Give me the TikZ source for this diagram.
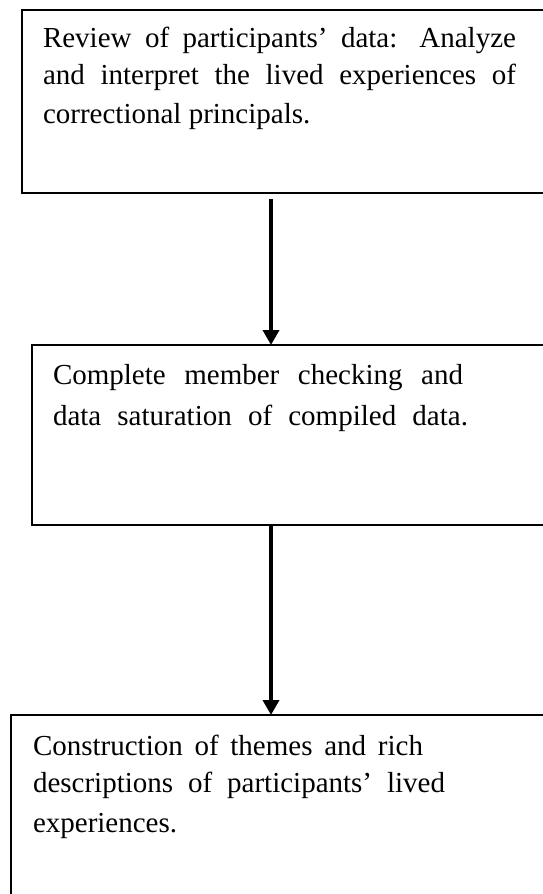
\documentclass[tikz,border=0pt]{standalone}
\usepackage{fontspec}
\setmainfont{Liberation Serif}
\usetikzlibrary{arrows.meta}

\tikzset{
  stagebox/.style={draw=black, line width=1.6pt, fill=none, rectangle,
    anchor=north west, inner sep=0pt, outer sep=0pt},
  textline/.style={anchor=base west, inner sep=0pt, outer sep=0pt,
    font=\fontsize{29}{38}\selectfont},
  flow/.style={draw=black, line width=3.6pt,
    -{Triangle[length=15pt,width=16pt]}}
}
% a justified line of the given width
\newcommand{\fillline}[2]{\makebox[#1pt][s]{#2}}

\begin{document}
\begin{tikzpicture}[x=1pt, y=-1pt]
  \useasboundingbox (0,0) rectangle (543,894);
  \fill[white] (0,0) rectangle (543,894);
  \clip (0,0) rectangle (543,894);

  % the three stages; the boxes run on past the right and bottom edges
  \node[stagebox, minimum width=560pt, minimum height=183pt] (b1) at (22,10) {};
  \node[stagebox, minimum width=560pt, minimum height=180pt] (b2) at (32,345) {};
  \node[stagebox, minimum width=560pt, minimum height=220pt] (b3) at (11,715) {};

  % stage texts
  \node[textline] (t1a) at (43,47)  {\fillline{473}{Review of participants’ data: Analyze}};
  \node[textline] (t1b) at (43,84)  {\fillline{473}{and interpret the lived experiences of}};
  \node[textline] (t1c) at (43,123) {correctional principals.};

  \node[textline] (t2a) at (53,384) {\fillline{410}{Complete member checking and}};
  \node[textline] (t2b) at (53,425) {\fillline{415}{data saturation of compiled data.}};

  \node[textline] (t3a) at (33,755) {\fillline{390}{Construction of themes and rich}};
  \node[textline] (t3b) at (33,792) {\fillline{412}{descriptions of participants’ lived}};
  \node[textline] (t3c) at (33,832) {experiences.};

  % connectors
  \coordinate (axis) at (271,0);
  \draw[flow] ([yshift=-6pt]b1.south -| axis) -- (b2.north -| axis);
  \draw[flow] (b2.south -| axis) -- (b3.north -| axis);
\end{tikzpicture}
\end{document}
